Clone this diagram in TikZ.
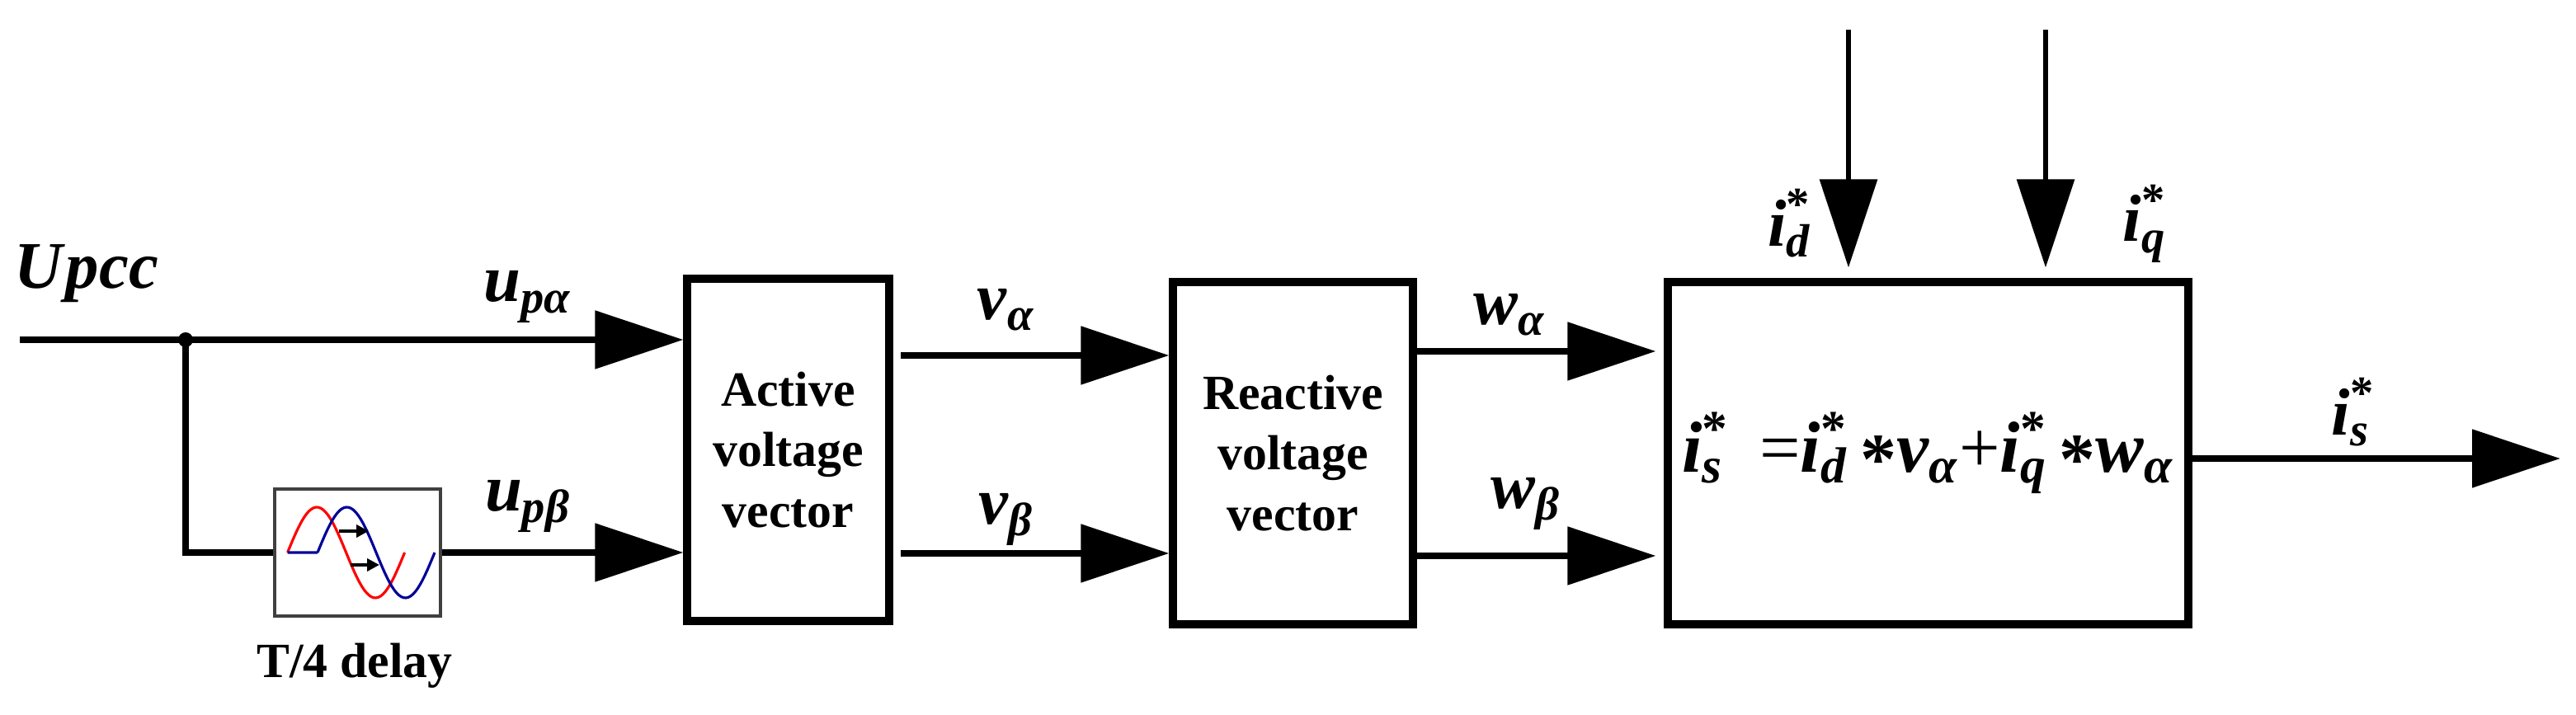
\documentclass[tikz,border=0pt]{standalone}
\usepackage{fontspec}
\setmainfont{Liberation Serif}
\usetikzlibrary{positioning,calc,arrows.meta}

\newcommand{\sym}[2]{\textbf{\textit{#1}}\textsubscript{\textbf{\textit{#2}}}}
\newcommand{\istar}[1]{\textbf{\textit{i}}\rlap{\textsuperscript{\textbf{*}}}\textsubscript{\textbf{\textit{#1}}}}
\newcommand{\mul}{\raisebox{-0.35ex}{\textbf{*}}}

\tikzset{
  blk/.style={draw, line width=2.6pt, minimum height=4.15cm, align=center, font=\fontsize{17}{21}\selectfont\bfseries},
  sig/.style={line width=2.4pt, -{Triangle[length=1.07cm,width=0.69cm]}},
  lbl/.style={font=\fontsize{23}{25}\selectfont}
}

\begin{document}
\begin{tikzpicture}
		\useasboundingbox (0,0) rectangle (31.23,8.67);
		
		% blocks
		\node[blk, minimum width=2.45cm] (act) at (9.555,3.215) {Active\\voltage\\vector};
		\node[blk, minimum width=2.91cm] (react) at (15.675,3.175) {Reactive\\voltage\\vector};
		\node[blk, minimum width=6.31cm, font=\fontsize{25}{28}\selectfont] (calc) at (23.375,3.175)
			{\istar{s}\ \ =\istar{d}\,\mul\sym{v}{α}+\istar{q}\,\mul\sym{w}{α}};
		\node[draw=black!75, line width=1.2pt, minimum width=2.01cm, minimum height=1.54cm] (delay) at (4.335,1.97) {};
		
		% delay icon
		\draw[red, line width=0.9pt] plot[domain=0:1.42, samples=50] ({3.486+\x},{1.97+0.55*sin(\x/1.42*360)});
		\draw[blue!60!black, line width=0.9pt] (3.486,1.97) -- (3.85,1.97)
			plot[domain=0:1.42, samples=50] ({3.85+\x},{1.97+0.55*sin(\x/1.42*360)});
		\draw[line width=1.2pt, -{Triangle[length=0.15cm,width=0.15cm]}] (4.11,2.23) -- (4.47,2.23);
		\draw[line width=1.2pt, -{Triangle[length=0.15cm,width=0.15cm]}] (4.25,1.82) -- (4.60,1.82);
		
		% coordinates
		\coordinate (in) at (0.24,4.55);
		\coordinate (jn) at (2.25,4.55);
		\coordinate (va) at (10.92,4.36);
		\coordinate (vb) at (10.92,1.96);
		\coordinate (wa) at (17.13,4.41);
		\coordinate (wb) at (17.13,1.93);
		\coordinate (idin) at (22.41,8.31);
		\coordinate (iqin) at (24.80,8.31);
		\coordinate (out) at (31.04,3.11);
		
		% connectors
		\draw[sig] (in) -- (act.west |- in);
		\draw[line width=2.4pt] (jn) |- (delay.west);
		\fill (jn) circle (0.09);
		\draw[sig] (delay.east) -- (act.west |- delay.east);
		\draw[sig] (va) -- (react.west |- va);
		\draw[sig] (vb) -- (react.west |- vb);
		\draw[sig] (wa) -- ($(calc.west |- wa)+(-0.1,0)$);
		\draw[sig] (wb) -- ($(calc.west |- wb)+(-0.1,0)$);
		\draw[sig, line width=1.8pt] (idin) -- ($(calc.north -| idin)+(0,0.13)$);
		\draw[sig, line width=1.8pt] (iqin) -- ($(calc.north -| iqin)+(0,0.13)$);
		\draw[sig] (calc.east |- out) -- (out);
		
		% labels
		\node[lbl] (upcc) at (1.05,5.35) {\textbf{\textit{U}}\textbf{\textit{pcc}}};
		\node[lbl] (lupa) at (6.4,5.07) {\sym{u}{pα}};
		\node[lbl] (lupb) at (6.4,2.53) {\sym{u}{pβ}};
		\node[lbl] (lva) at (12.2,4.91) {\sym{v}{α}};
		\node[lbl] (lvb) at (12.2,2.37) {\sym{v}{β}};
		\node[lbl] (lwa) at (18.3,4.85) {\sym{w}{α}};
		\node[lbl] (lwb) at (18.5,2.56) {\sym{w}{β}};
		\node[lbl] (lid) at (21.7,5.96) {\istar{d}};
		\node[lbl] (liq) at (26.0,5.96) {\istar{q}};
		\node[lbl] (lis) at (28.5,3.67) {\istar{s}};
		\node[font=\fontsize{17}{20}\selectfont\bfseries] (ldel) at (4.3,0.6) {T/4 delay};
\end{tikzpicture}
\end{document}
